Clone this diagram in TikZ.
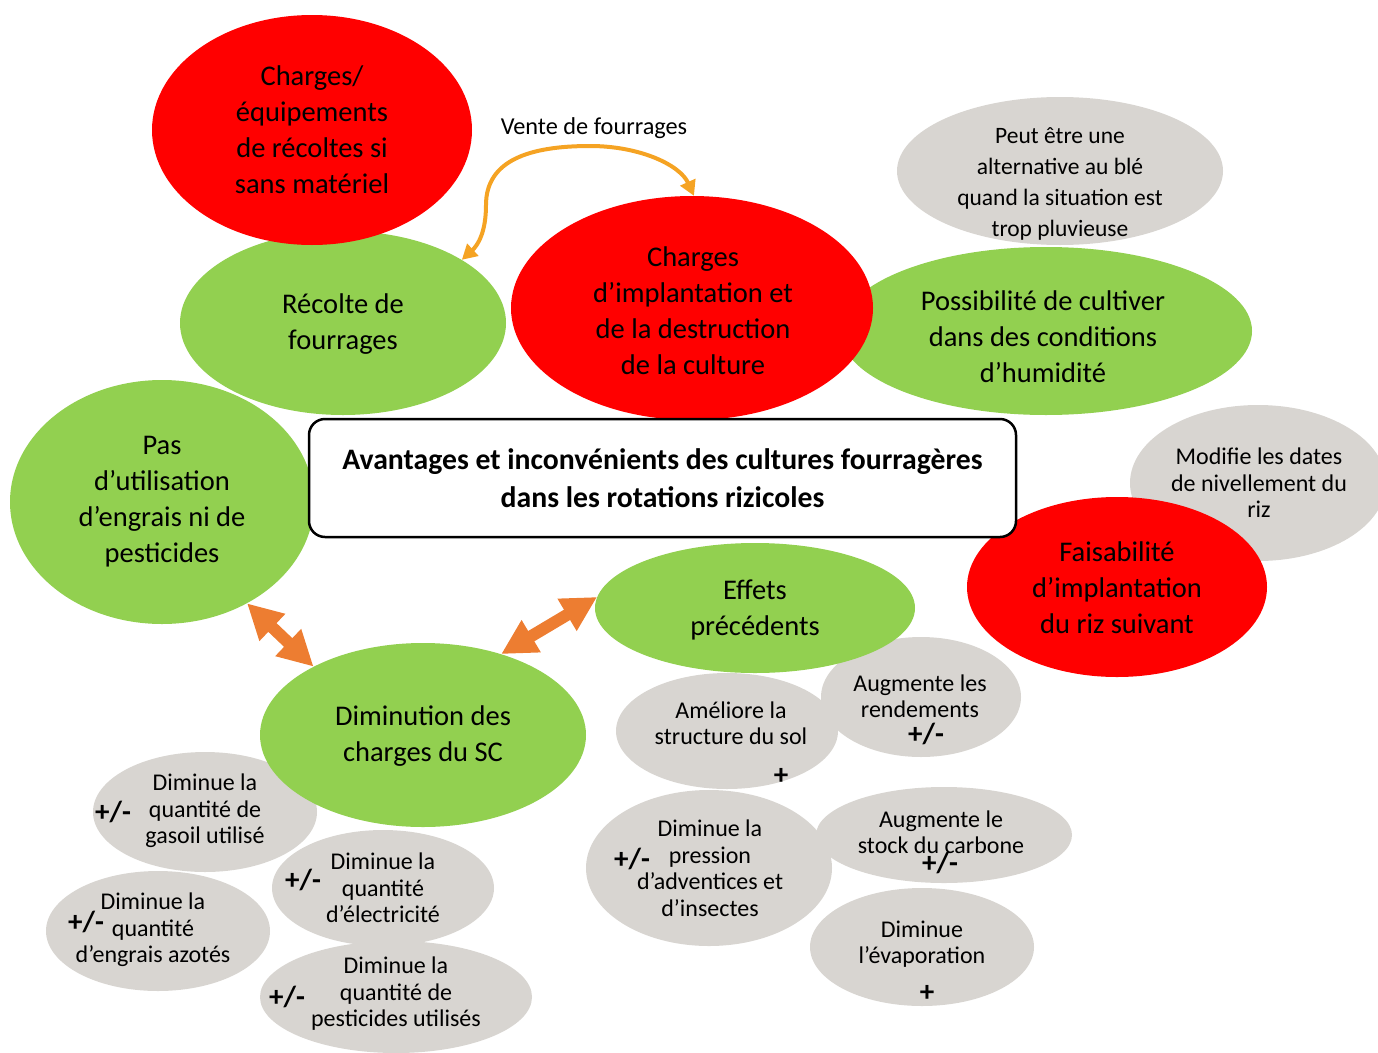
\documentclass[tikz,border=0pt]{standalone}
\usepackage{fontspec}
\setmainfont{Carlito}
\usetikzlibrary{shapes.geometric,arrows.meta}
\definecolor{grayc}{RGB}{216,213,209}
\definecolor{greenc}{RGB}{146,208,80}
\definecolor{redc}{RGB}{255,0,0}
\definecolor{orangec}{RGB}{237,125,49}
\definecolor{curvec}{RGB}{245,163,35}
\tikzset{
  ell/.style={ellipse, inner sep=0pt, draw=none},
  grayell/.style={ell, fill=grayc},
  greenell/.style={ell, fill=greenc},
  redell/.style={ell, fill=redc},
  bigtxt/.style={align=center, inner sep=0pt, font=\fontsize{28.5}{36}\selectfont},
  gtxt/.style={align=center, inner sep=0pt, font=\fontsize{24}{26.5}\selectfont},
  signtxt/.style={inner sep=0pt, font=\bfseries\fontsize{29}{30}\selectfont},
  dblarrow/.style={orangec, line width=12pt, {Triangle[length=35pt,width=35pt]}-{Triangle[length=35pt,width=35pt]}},
  curvearrow/.style={curvec, line width=4pt, {Triangle[length=15pt,width=16pt]}-{Triangle[length=15pt,width=16pt]}}
}
\begin{document}
\begin{tikzpicture}[x=1pt,y=-1pt]
\useasboundingbox (0,0) rectangle (1378,1052);
% gray ellipses
\node[grayell, minimum width=326pt, minimum height=148pt] (gy4) at (1060,171) {};
\node[grayell, minimum width=256pt, minimum height=156pt] (gy8) at (1258,483) {};
\node[grayell, minimum width=222pt, minimum height=116pt] (gy14) at (727,731) {};
\node[grayell, minimum width=200pt, minimum height=120pt] (gy15) at (921,697) {};
\node[grayell, minimum width=246pt, minimum height=156pt] (gy16) at (709,868) {};
\node[grayell, minimum width=256pt, minimum height=96pt] (gy17) at (944,835) {};
\node[grayell, minimum width=224pt, minimum height=118pt] (gy18) at (922,947) {};
\node[grayell, minimum width=224pt, minimum height=120pt] (gy19) at (205,812) {};
\node[grayell, minimum width=222pt, minimum height=116pt] (gy20) at (383,888) {};
\node[grayell, minimum width=224pt, minimum height=120pt] (gy21) at (158,931) {};
\node[grayell, minimum width=272pt, minimum height=112pt] (gy22) at (396,997) {};
% green ellipses
\node[greenell, minimum width=326pt, minimum height=184pt] (g2) at (343,323) {};
\node[greenell, minimum width=412pt, minimum height=168pt] (g5) at (1046,331) {};
\node[greenell, minimum width=304pt, minimum height=244pt] (g6) at (162,502) {};
\node[greenell, minimum width=320pt, minimum height=130pt] (g10) at (755,608) {};
\node[greenell, minimum width=326pt, minimum height=184pt] (g11) at (423,735) {};
% red ellipses
\node[redell, minimum width=320pt, minimum height=230pt] (r1) at (312,130) {};
\node[redell, minimum width=362pt, minimum height=224pt] (r3) at (692,308) {};
\node[redell, minimum width=300pt, minimum height=180pt] (r9) at (1117,587) {};
% title box
\node[draw=black, line width=2.5pt, rounded corners=16pt, fill=white, minimum width=707pt, minimum height=118pt, inner sep=0pt, align=center, font=\bfseries\fontsize{29.7}{38}\selectfont] (title) at (662.5,478) {Avantages et inconvénients des cultures fourragères\\dans les rotations rizicoles};
% texts in big ellipses
\node[bigtxt] (t1) at (312,130) {Charges/\\équipements\\de récoltes si\\sans matériel};
\node[bigtxt] (t2) at (343,324) {Récolte de\\fourrages};
\node[bigtxt] (t3) at (693,311) {Charges\\d’implantation et\\de la destruction\\de la culture};
\node[bigtxt] (t5) at (1043,337) {Possibilité de cultiver\\dans des conditions\\d’humidité};
\node[bigtxt] (t6) at (162,502) {Pas\\d’utilisation\\d’engrais ni de\\pesticides};
\node[bigtxt] (t9) at (1117,588) {Faisabilité\\d’implantation\\du riz suivant};
\node[bigtxt] (t10) at (755,610) {Effets\\précédents};
\node[bigtxt] (t11) at (423,736) {Diminution des\\charges du SC};
% texts in gray ellipses
\node[gtxt, font=\fontsize{23.5}{31}\selectfont] (t4) at (1060,183.5) {Peut être une\\alternative au blé\\quand la situation est\\trop pluvieuse};
\node[gtxt] (t8) at (1259,483) {Modifie les dates\\de nivellement du\\riz};
\node[gtxt] (t14) at (731,723) {Améliore la\\structure du sol};
\node[signtxt] (s14) at (781,776) {+};
\node[gtxt] (t15) at (920,696) {Augmente les\\rendements};
\node[signtxt] (s15) at (926,734) {+/-};
\node[gtxt] (t16) at (710,868) {Diminue la\\pression\\d’adventices et\\d’insectes};
\node[signtxt] (s16) at (632,859) {+/-};
\node[gtxt] (t17) at (941,832) {Augmente le\\stock du carbone};
\node[signtxt] (s17) at (940,863) {+/-};
\node[gtxt] (t18) at (922,944) {Diminue\\l’évaporation};
\node[signtxt] (s18) at (927,993) {+};
\node[gtxt] (t19) at (205,811) {Diminue la\\quantité de\\gasoil utilisé};
\node[signtxt] (s19) at (113,812) {+/-};
\node[gtxt] (t20) at (383,888) {Diminue la\\quantité\\d’électricité};
\node[signtxt] (s20) at (303,880) {+/-};
\node[gtxt] (t21) at (153,930) {Diminue la\\quantité\\d’engrais azotés};
\node[signtxt] (s21) at (86,922) {+/-};
\node[gtxt] (t22) at (396,994) {Diminue la\\quantité de\\pesticides utilisés};
\node[signtxt] (s22) at (287,997) {+/-};
% arrows
\draw[dblarrow] (g6.-50) -- (g11.148);
\draw[dblarrow] (g11.46) -- (g10.176);
\coordinate (c1) at (486,205);
\coordinate (c2) at (590,146);
\draw[curvearrow] (g2.28) .. controls (478,245) and (486,232) .. (c1)
  .. controls (486,160) and (530,146) .. (c2)
  .. controls (640,146) and (680,165) .. (r3.89);
\node[inner sep=0pt, font=\fontsize{24.3}{27}\selectfont] (vente) at (594,128) {Vente de fourrages};
\end{tikzpicture}
\end{document}
